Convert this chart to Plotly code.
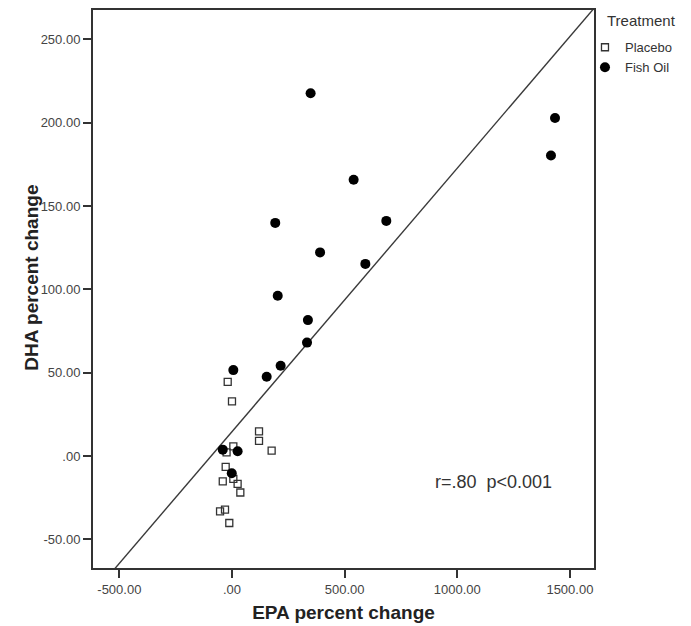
import plotly.graph_objects as go

# Data (EPA % change, DHA % change)
placebo_epa = [-19, 0, 120, 120, 176, 6, -24, -28, 6, -41, 25, 37, -31, -53, -12]
placebo_dha = [44.5, 32.9, 14.8, 9.2, 3.3, 5.8, 2.3, -6.4, -13.6, -15.2, -16.6, -21.8, -32.1, -33.1, -40.1]

fish_epa = [349, 1434, 1416, 540, 192, 685, 391, 592, 203, 337, 333, 216, 154, 6, -41, 25, -1]
fish_dha = [217.7, 202.8, 180.3, 165.8, 139.9, 141.1, 122.2, 115.3, 96.2, 81.6, 68.1, 54.2, 47.6, 51.6, 3.9, 2.9, -10.3]

# Fit line (total) parameters
fit_intercept = 14.7
fit_slope = 0.158

x_ticks = [-500, 0, 500, 1000, 1500]
x_tick_labels = ["-500.00", ".00", "500.00", "1000.00", "1500.00"]
y_ticks = [-50, 0, 50, 100, 150, 200, 250]
y_tick_labels = ["-50.00", ".00", "50.00", "100.00", "150.00", "200.00", "250.00"]

x_range = [-617, 1607]
y_range = [-67.1, 267.6]

FONT = "Liberation Sans, Arial, sans-serif"

fig = go.Figure()

line_x = [x_range[0], x_range[1]]
line_y = [fit_intercept + fit_slope * v for v in line_x]
fig.add_trace(go.Scatter(x=line_x, y=line_y, mode="lines",
                         line=dict(color="#3a3a3a", width=1.4),
                         showlegend=False, hoverinfo="skip"))

fig.add_trace(go.Scatter(x=placebo_epa, y=placebo_dha, mode="markers", name="Placebo",
                         marker=dict(symbol="square-open", size=7, color="#333333",
                                     line=dict(width=1.3, color="#333333"))))
fig.add_trace(go.Scatter(x=fish_epa, y=fish_dha, mode="markers", name="Fish Oil",
                         marker=dict(symbol="circle", size=10, color="black")))

fig.add_annotation(x=0.800, y=0.155, xref="paper", yref="paper", text="r=.80  p<0.001",
                   xanchor="center", yanchor="middle",
                   showarrow=False, font=dict(family=FONT, size=18, color="#333333"))

# legend title
fig.add_annotation(x=1.022, y=1.0, xref="paper", yref="paper", text="Treatment",
                   xanchor="left", yanchor="top", showarrow=False,
                   font=dict(family=FONT, size=15, color="#333333"))

# y-axis title
fig.add_annotation(x=-0.122, y=0.52, xref="paper", yref="paper", text="<b>DHA percent change</b>",
                   textangle=-90, xanchor="center", yanchor="middle", showarrow=False,
                   font=dict(family=FONT, size=19, color="#222222"))

axis_common = dict(showgrid=False, zeroline=False, showline=True, linecolor="#333333",
                   linewidth=2, mirror=True, ticks="outside", ticklen=8, tickwidth=1.5,
                   tickcolor="#333333",
                   tickfont=dict(family=FONT, size=13, color="#444444"))

fig.update_xaxes(range=x_range, tickvals=x_ticks, ticktext=x_tick_labels,
                 title=dict(text="<b>EPA percent change</b>", standoff=10,
                            font=dict(family=FONT, size=19, color="#222222")),
                 **axis_common)
fig.update_yaxes(range=y_range, tickvals=y_ticks, ticktext=y_tick_labels,
                 **axis_common)

# page body has an 8px default margin; margins compensate for it
fig.update_layout(
    width=691, height=626,
    margin=dict(l=85, r=105, t=0, b=66),
    plot_bgcolor="white", paper_bgcolor="white",
    legend=dict(x=0.982, y=0.960, xanchor="left", yanchor="top",
                bgcolor="rgba(0,0,0,0)",
                font=dict(family=FONT, size=13, color="#333333"),
                tracegroupgap=0),
)

fig.write_html("out.html")
